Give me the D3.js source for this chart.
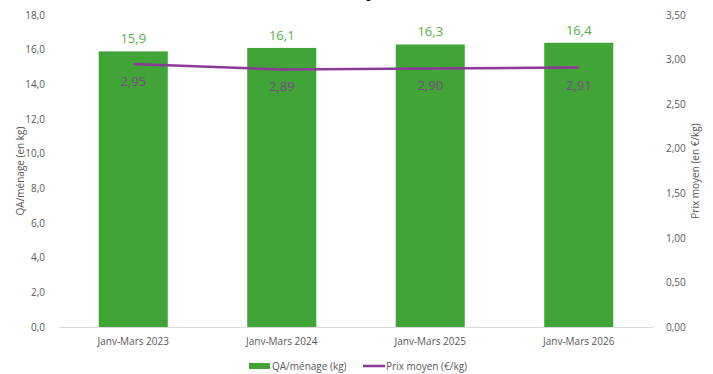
<!DOCTYPE html>
<html>
<head>
<meta charset="utf-8">
<title>QA/ménage et prix moyen</title>
<script src="https://cdn.jsdelivr.net/npm/d3@7"></script>
<style>
  body { margin: 0; background: #fff; }
  svg text { font-family: "Open Sans", sans-serif; }
</style>
</head>
<body>
<div id="chart"></div>
<script>
// data
const periods = ["Janv-Mars 2023", "Janv-Mars 2024", "Janv-Mars 2025", "Janv-Mars 2026"];
const qaMenage = [15.9, 16.1, 16.3, 16.4];
const prixMoyen = [2.95, 2.89, 2.90, 2.91];
const leftTicks = [0, 2, 4, 6, 8, 10, 12, 14, 16, 18];
const rightTicks = [0, 0.5, 1, 1.5, 2, 2.5, 3, 3.5];

const W = 713, H = 374;
const m = { top: 15, right: 60, bottom: 47, left: 59 };
const frNum = (d, k) => d.toFixed(k).replace(".", ",");

const svg = d3.select("#chart").append("svg")
    .attr("width", W).attr("height", H);

// cut-off title descender at the very top
svg.append("text")
    .attr("x", 366).attr("y", -3)
    .attr("font-size", 18).attr("font-weight", "bold").attr("fill", "#000")
    .text("y");

const x = d3.scaleBand().domain(periods)
    .range([m.left, W - m.right])
    .paddingInner(0.535).paddingOuter(0.2675);
const yL = d3.scaleLinear().domain([0, 18]).range([H - m.bottom, m.top]);
const yR = d3.scaleLinear().domain([0, 3.5]).range([H - m.bottom, m.top]);

// left axis
const axL = svg.append("g").attr("transform", `translate(${m.left - 11},0)`)
    .call(d3.axisLeft(yL).tickValues(leftTicks).tickSize(0).tickFormat(d => frNum(d, 1)));
axL.select(".domain").remove();
axL.selectAll("text").attr("font-size", 10).attr("fill", "#595959").attr("font-family", "Open Sans");

// right axis
const axR = svg.append("g").attr("transform", `translate(${W - m.right + 10},0)`)
    .call(d3.axisRight(yR).tickValues(rightTicks).tickSize(0).tickFormat(d => frNum(d, 2)));
axR.select(".domain").remove();
axR.selectAll("text").attr("font-size", 10).attr("fill", "#595959").attr("font-family", "Open Sans");

// bottom axis
const axB = svg.append("g").attr("transform", `translate(0,${H - m.bottom})`)
    .call(d3.axisBottom(x).tickSize(0).tickPadding(11));
axB.select(".domain").attr("stroke", "#d9d9d9");
axB.selectAll("text").attr("font-size", 10).attr("fill", "#595959").attr("font-family", "Open Sans");

// axis titles
svg.append("text")
    .attr("transform", `translate(24,${(m.top + H - m.bottom) / 2}) rotate(-90)`)
    .attr("text-anchor", "middle").attr("font-size", 10).attr("fill", "#595959")
    .text("QA/ménage (en kg)");
svg.append("text")
    .attr("transform", `translate(699,${(m.top + H - m.bottom) / 2}) rotate(-90)`)
    .attr("text-anchor", "middle").attr("font-size", 10).attr("fill", "#595959")
    .text("Prix moyen (en €/kg)");

// bars
svg.append("g").selectAll("rect")
    .data(periods)
    .join("rect")
    .attr("x", d => x(d))
    .attr("width", x.bandwidth())
    .attr("y", (d, i) => yL(qaMenage[i]))
    .attr("height", (d, i) => yL(0) - yL(qaMenage[i]))
    .attr("fill", "#40a436");

svg.append("g").selectAll("text")
    .data(periods)
    .join("text")
    .attr("x", d => x(d) + x.bandwidth() / 2)
    .attr("y", (d, i) => yL(qaMenage[i]) - 8)
    .attr("text-anchor", "middle")
    .attr("font-size", 13).attr("fill", "#55b247")
    .text((d, i) => frNum(qaMenage[i], 1));

// price line
const line = d3.line()
    .x((d, i) => x(periods[i]) + x.bandwidth() / 2)
    .y(d => yR(d));
svg.append("path")
    .datum(prixMoyen)
    .attr("d", line)
    .attr("fill", "none")
    .attr("stroke", "#8b3a98")
    .attr("stroke-width", 2.5);

svg.append("g").selectAll("text")
    .data(prixMoyen)
    .join("text")
    .attr("x", (d, i) => x(periods[i]) + x.bandwidth() / 2)
    .attr("y", d => yR(d) + 22)
    .attr("text-anchor", "middle")
    .attr("font-size", 13).attr("fill", "#7a4a88")
    .text(d => frNum(d, 2));

// legend
const lg = svg.append("g").attr("transform", "translate(249,366)");
lg.append("rect").attr("x", 0).attr("y", -3).attr("width", 21).attr("height", 6).attr("fill", "#40a436");
lg.append("text").attr("x", 23).attr("y", 3.5).attr("font-size", 10).attr("fill", "#595959").text("QA/ménage (kg)");
lg.append("line").attr("x1", 114).attr("x2", 136).attr("y1", 0).attr("y2", 0)
    .attr("stroke", "#8b3a98").attr("stroke-width", 2.5);
lg.append("text").attr("x", 137).attr("y", 3.5).attr("font-size", 10).attr("fill", "#595959").text("Prix moyen (€/kg)");
</script>
</body>
</html>
